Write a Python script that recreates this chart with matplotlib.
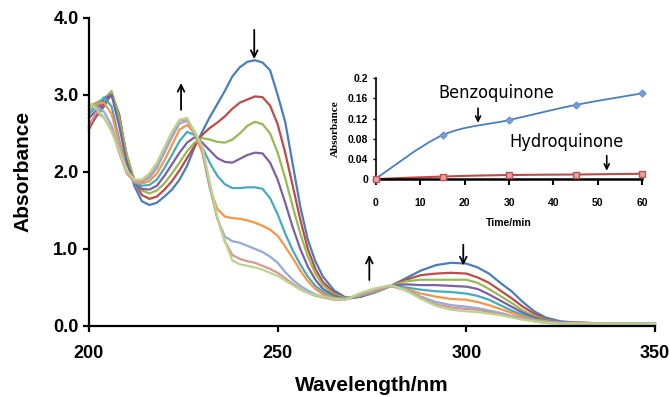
import numpy as np
import matplotlib
matplotlib.use('Agg')
from matplotlib import pyplot as plt
from matplotlib.path import Path
from matplotlib.patches import PathPatch

plt.rcParams['font.family'] = 'Liberation Sans'

# UV-vis spectra recorded during the reaction (first scan -> last scan)
wl = [200, 202, 204, 206, 208, 210, 212, 214, 216, 218, 220, 222, 224, 226, 228, 230,
      232, 234, 236, 238, 240, 242, 244, 246, 248, 250, 252, 254, 256, 258, 260, 262,
      265, 268, 272, 276, 280, 284, 288, 292, 296, 300,
      303, 306, 309, 312, 315, 318, 321, 325, 330, 340, 350]

scan1 = [2.58, 2.72, 2.85, 3.02, 2.75, 2.17, 1.82, 1.62, 1.57, 1.6, 1.68, 1.77, 1.9, 2.08, 2.32, 2.52,
         2.71, 2.88, 3.05, 3.24, 3.36, 3.43, 3.45, 3.42, 3.32, 3.0, 2.65, 2.1, 1.55, 1.12, 0.84, 0.64,
         0.46, 0.37, 0.38, 0.44, 0.52, 0.62, 0.72, 0.79, 0.82, 0.81,
         0.76, 0.68, 0.56, 0.45, 0.31, 0.19, 0.11, 0.06, 0.04, 0.03, 0.03]
scan2 = [2.55, 2.75, 2.9, 3.0, 2.72, 2.22, 1.88, 1.7, 1.65, 1.68, 1.77, 1.88, 2.02, 2.18, 2.34, 2.48,
         2.57, 2.64, 2.72, 2.82, 2.9, 2.94, 2.98, 2.97, 2.86, 2.62, 2.25, 1.82, 1.38, 1.0, 0.74, 0.57,
         0.43, 0.36, 0.38, 0.44, 0.52, 0.6, 0.66, 0.68, 0.69, 0.68,
         0.63, 0.56, 0.46, 0.36, 0.25, 0.16, 0.09, 0.05, 0.04, 0.03, 0.03]
scan3 = [2.85, 2.9, 2.95, 3.05, 2.7, 2.22, 1.9, 1.76, 1.72, 1.76, 1.85, 1.98, 2.12, 2.27, 2.38, 2.44,
         2.42, 2.39, 2.38, 2.42, 2.5, 2.6, 2.65, 2.62, 2.5, 2.25, 1.92, 1.55, 1.2, 0.9, 0.68, 0.53,
         0.41, 0.36, 0.38, 0.44, 0.52, 0.58, 0.6, 0.6, 0.6, 0.6,
         0.56, 0.48, 0.39, 0.3, 0.2, 0.13, 0.08, 0.05, 0.04, 0.03, 0.03]
scan4 = [2.7, 2.8, 2.95, 3.0, 2.6, 2.12, 1.87, 1.78, 1.77, 1.82, 1.95, 2.1, 2.25, 2.38, 2.45, 2.38,
         2.28, 2.18, 2.13, 2.12, 2.17, 2.22, 2.25, 2.24, 2.12, 1.9, 1.6, 1.28, 1.0, 0.77, 0.6, 0.48,
         0.39, 0.35, 0.38, 0.45, 0.52, 0.54, 0.53, 0.53, 0.52, 0.51,
         0.48, 0.41, 0.33, 0.25, 0.17, 0.11, 0.07, 0.05, 0.04, 0.03, 0.03]
scan5 = [2.75, 2.85, 2.97, 2.85, 2.42, 2.02, 1.86, 1.82, 1.83, 1.9, 2.05, 2.22, 2.4, 2.52, 2.48, 2.32,
         2.12, 1.95, 1.84, 1.79, 1.79, 1.8, 1.8, 1.78, 1.66, 1.45, 1.2, 0.98, 0.8, 0.64, 0.52, 0.44,
         0.37, 0.35, 0.39, 0.45, 0.52, 0.5, 0.47, 0.45, 0.44, 0.42,
         0.39, 0.34, 0.27, 0.2, 0.14, 0.09, 0.06, 0.04, 0.04, 0.03, 0.03]
scan6 = [2.8, 2.88, 2.9, 2.75, 2.38, 2.0, 1.87, 1.85, 1.88, 1.98, 2.15, 2.35, 2.55, 2.61, 2.5, 2.25,
         1.8, 1.52, 1.42, 1.4, 1.39, 1.37, 1.34, 1.3, 1.25, 1.17, 1.03, 0.88, 0.72, 0.58, 0.48, 0.41,
         0.36, 0.35, 0.4, 0.46, 0.52, 0.48, 0.42, 0.38, 0.35, 0.34,
         0.31, 0.27, 0.22, 0.17, 0.12, 0.08, 0.06, 0.04, 0.04, 0.03, 0.03]
scan7 = [2.8, 2.85, 2.78, 2.6, 2.3, 2.0, 1.88, 1.87, 1.92, 2.05, 2.25, 2.45, 2.63, 2.66, 2.52, 2.3,
         1.8, 1.4, 1.16, 1.1, 1.08, 1.04, 1.0, 0.96, 0.9, 0.82, 0.7, 0.6, 0.52, 0.46, 0.41, 0.38,
         0.35, 0.35, 0.41, 0.47, 0.52, 0.47, 0.38, 0.31, 0.27, 0.25,
         0.23, 0.2, 0.17, 0.13, 0.1, 0.07, 0.05, 0.04, 0.03, 0.03, 0.03]
scan8 = [2.6, 2.78, 2.7, 2.55, 2.25, 1.98, 1.88, 1.88, 1.95, 2.1, 2.3, 2.5, 2.67, 2.68, 2.52, 2.3,
         1.82, 1.4, 1.1, 0.92, 0.87, 0.84, 0.82, 0.78, 0.74, 0.69, 0.62, 0.55, 0.48, 0.43, 0.39, 0.37,
         0.34, 0.34, 0.42, 0.48, 0.52, 0.46, 0.36, 0.28, 0.24, 0.22,
         0.21, 0.18, 0.15, 0.12, 0.09, 0.06, 0.04, 0.03, 0.03, 0.02, 0.02]
scan9 = [2.9, 2.82, 2.71, 2.52, 2.28, 2.02, 1.9, 1.9, 1.98, 2.12, 2.32, 2.52, 2.68, 2.7, 2.52, 2.33,
         1.87, 1.42, 1.1, 0.85, 0.8, 0.78, 0.76, 0.73, 0.69, 0.65, 0.59, 0.53, 0.47, 0.43, 0.4, 0.38,
         0.35, 0.34, 0.43, 0.49, 0.53, 0.46, 0.35, 0.26, 0.21, 0.19,
         0.18, 0.16, 0.14, 0.11, 0.08, 0.06, 0.04, 0.03, 0.03, 0.03, 0.03]

scans = [scan1, scan2, scan3, scan4, scan5, scan6, scan7, scan8, scan9]
colors = ['#4A7EBB', '#BE4B48', '#98B954', '#7D60A0', '#46AAC5',
          '#F79646', '#93ABD9', '#D99694', '#B9D58F']

# kinetics (inset)
t_min = [0, 15, 30, 45, 60]
benzoquinone = [0.001, 0.087, 0.117, 0.147, 0.170]
hydroquinone = [0.0, 0.005, 0.008, 0.009, 0.0105]


def smooth_path(x, y):
    # Catmull-Rom style bezier through the points, like a spreadsheet "smoothed line"
    pts = np.column_stack([x, y]).astype(float)
    verts = [pts[0]]
    codes = [Path.MOVETO]
    n = len(pts)
    for i in range(n - 1):
        p0 = pts[max(i - 1, 0)]
        p1 = pts[i]
        p2 = pts[i + 1]
        p3 = pts[min(i + 2, n - 1)]
        verts += [p1 + (p2 - p0) / 6, p2 - (p3 - p1) / 6, p2]
        codes += [Path.CURVE4] * 3
    return Path(verts, codes)


fig = plt.figure(figsize=(6.69, 3.97), dpi=100)
ax = fig.add_axes([0.133, 0.179, 0.846, 0.776])

for s, c in zip(scans, colors):
    ax.plot(wl, s, color=c, lw=1.6, solid_joinstyle='round', clip_on=False)

ax.set_xlim(200, 350)
ax.set_ylim(0, 4)
ax.set_xticks([200, 250, 300, 350])
ax.set_yticks([0, 1, 2, 3, 4])
ax.set_yticklabels(['%.1f' % v for v in [0, 1, 2, 3, 4]])
for sp in ['top', 'right']:
    ax.spines[sp].set_visible(False)
for sp in ['left', 'bottom']:
    ax.spines[sp].set_linewidth(1.6)
ax.tick_params(axis='both', direction='out', length=4.5, width=1.6, labelsize=13)
ax.tick_params(axis='x', pad=9)
ax.tick_params(axis='y', pad=3)
for lab in ax.get_xticklabels() + ax.get_yticklabels():
    lab.set_fontweight('bold')
ax.set_xlabel('Wavelength/nm', fontsize=15, fontweight='bold', labelpad=10)
ax.set_ylabel('Absorbance', fontsize=15, fontweight='bold', labelpad=15)

arrow = dict(arrowstyle='->', color='black', lw=1.3, mutation_scale=12)
ax.annotate('', xy=(243.8, 3.43), xytext=(243.8, 3.88), arrowprops=arrow)
ax.annotate('', xy=(224.4, 3.19), xytext=(224.4, 2.77), arrowprops=arrow)
ax.annotate('', xy=(274.3, 0.96), xytext=(274.3, 0.56), arrowprops=arrow)
ax.annotate('', xy=(299.2, 0.75), xytext=(299.2, 1.09), arrowprops=arrow)

# inset: product formation vs time
ins = fig.add_axes([0.562, 0.549, 0.398, 0.254])
ins.patch.set_alpha(0)
ins.add_patch(PathPatch(smooth_path(t_min, benzoquinone), fill=False,
                        edgecolor='#4A7EBB', lw=1.3, clip_on=False))
ins.plot(t_min, benzoquinone, ls='none', marker='D', ms=3.5, color='#7A9ED6',
         mec='#6C93D0', clip_on=False, zorder=3)
ins.add_patch(PathPatch(smooth_path(t_min, hydroquinone), fill=False,
                        edgecolor='#BE4B48', lw=1.5, clip_on=False))
ins.plot(t_min, hydroquinone, ls='none', marker='s', ms=4, color='#E5A3A2',
         mec='#C0504D', mew=1, clip_on=False, zorder=3)

ins.set_xlim(0, 60)
ins.set_ylim(0, 0.2)
ins.set_xticks([0, 10, 20, 30, 40, 50, 60])
ins.set_yticks([0, 0.04, 0.08, 0.12, 0.16, 0.2])
ins.set_yticklabels(['0', '0.04', '0.08', '0.12', '0.16', '0.2'])
for sp in ['top', 'right']:
    ins.spines[sp].set_visible(False)
ins.spines['left'].set_linewidth(1.2)
ins.spines['bottom'].set_linewidth(1.8)
ins.tick_params(axis='x', direction='out', length=4, width=1.5, labelsize=7.5, pad=9.5)
ins.tick_params(axis='y', direction='out', length=2.5, width=1.0, labelsize=7.5, pad=3)
for lab in ins.get_xticklabels() + ins.get_yticklabels():
    lab.set_fontweight('bold')
ins.set_xlabel('Time/min', fontsize=7.5, fontweight='bold', labelpad=7)
ins.set_ylabel('Absorbance', fontsize=8, fontweight='bold',
               family='Liberation Serif', labelpad=6)

label_font = dict(fontsize=13, family='DejaVu Sans', fontstretch='condensed',
                  ha='left', va='center', transform=ins.transAxes)
ins.text(0.235, 0.85, 'Benzoquinone', **label_font)
ins.text(0.5, 0.37, 'Hydroquinone', **label_font)
small_arrow = dict(arrowstyle='->', color='black', lw=1.2, mutation_scale=9)
ins.annotate('', xy=(23, 0.106), xytext=(23, 0.146), arrowprops=small_arrow)
ins.annotate('', xy=(52, 0.011), xytext=(52, 0.052), arrowprops=small_arrow)

fig.savefig('out.png', dpi=100)
